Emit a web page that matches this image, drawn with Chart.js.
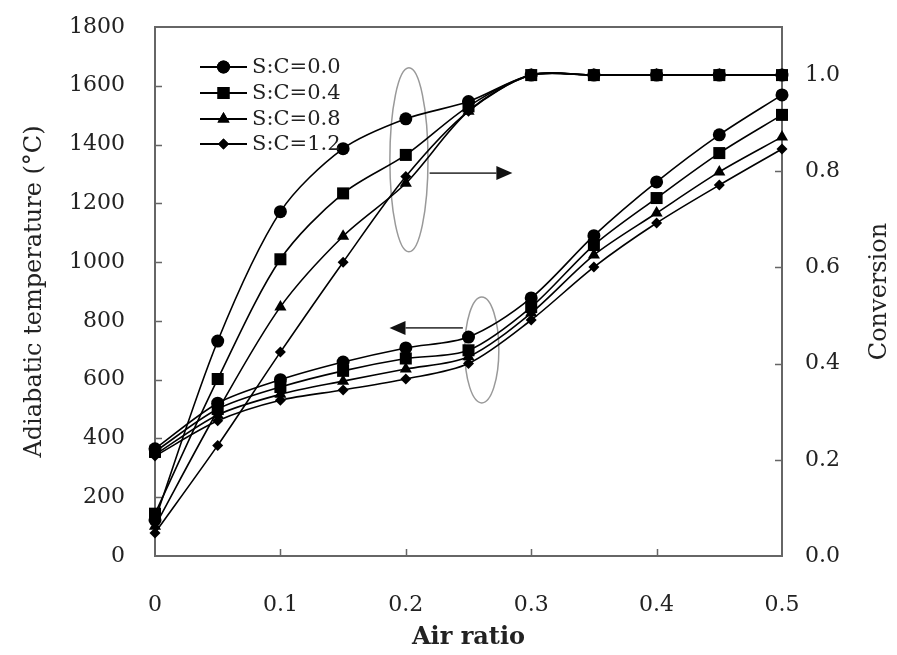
<!DOCTYPE html>
<html>
<head>
<meta charset="utf-8">
<script src="https://cdn.jsdelivr.net/npm/chart.js@4/dist/chart.umd.min.js"></script>
<style>
html,body{margin:0;padding:0;background:#fff;}
#wrap{width:897px;height:655px;}
</style>
</head>
<body>
<div id="wrap"><canvas id="c" width="897" height="655"></canvas></div>
<script>
// ---------------- DATA ----------------
const airRatio = [0, 0.05, 0.1, 0.15, 0.2, 0.25, 0.3, 0.35, 0.4, 0.45, 0.5];
const seriesNames = ['S:C=0.0', 'S:C=0.4', 'S:C=0.8', 'S:C=1.2'];

// Adiabatic temperature (°C) - left axis
const tempSC00 = [365, 520, 600, 660, 708, 745, 878, 1090, 1273, 1433, 1569];
const tempSC04 = [355, 500, 575, 630, 672, 700, 847, 1058, 1218, 1371, 1501];
const tempSC08 = [345, 480, 550, 595, 636, 678, 827, 1024, 1167, 1307, 1426];
const tempSC12 = [340, 460, 530, 565, 602, 655, 803, 983, 1133, 1262, 1385];

// Conversion - right axis
const convSC00 = [0.075, 0.447, 0.716, 0.847, 0.909, 0.945, 1.0, 1.0, 1.0, 1.0, 1.0];
const convSC04 = [0.088, 0.368, 0.617, 0.754, 0.834, 0.935, 1.0, 1.0, 1.0, 1.0, 1.0];
const convSC08 = [0.062, 0.302, 0.518, 0.665, 0.775, 0.925, 1.0, 1.0, 1.0, 1.0, 1.0];
const convSC12 = [0.048, 0.230, 0.424, 0.611, 0.789, 0.925, 1.0, 1.0, 1.0, 1.0, 1.0];

const xTickValues = [0, 0.1, 0.2, 0.3, 0.4, 0.5];
const xTickLabels = ['0', '0.1', '0.2', '0.3', '0.4', '0.5'];
const tempTickValues = [0, 200, 400, 600, 800, 1000, 1200, 1400, 1600, 1800];
const tempTickLabels = ['0', '200', '400', '600', '800', '1000', '1200', '1400', '1600', '1800'];
const convTickValues = [0, 0.2, 0.4, 0.6, 0.8, 1.0];
const convTickLabels = ['0.0', '0.2', '0.4', '0.6', '0.8', '1.0'];

const xTitle = 'Air ratio';
const leftTitle = 'Adiabatic temperature (°C)';
const rightTitle = 'Conversion';

// ---------------- STYLE ----------------
const FONT = 'DejaVu Serif';
const TXT = '#222';
const FRAME = '#666';
const markerStyles = ['circle', 'rect', 'triangle', 'rectRot'];
const markerRadii = [6.5, 8.5, 7, 5.5];
const drawOrder = [2, 0, 3, 4];

// annotation shapes in data units (x, temperature)
const ellipseShapes = [
  {x: 0.2025, y: 1348, dx: 0.0152, dy: 313},
  {x: 0.2606, y: 701, dx: 0.0136, dy: 180}
];
const arrowShapes = [
  {x1: 0.219, x2: 0.285, y: 1303},
  {x1: 0.2455, x2: 0.187, y: 776}
];

const temps = [tempSC00, tempSC04, tempSC08, tempSC12];
const convs = [convSC00, convSC04, convSC08, convSC12];
const toXY = arr => arr.map((v, i) => ({x: airRatio[i], y: v}));

const datasets = [];
seriesNames.forEach((name, k) => {
  const common = {
    borderColor: '#000', backgroundColor: '#000',
    pointBackgroundColor: '#000', pointBorderColor: '#000',
    pointStyle: markerStyles[k], pointRadius: markerRadii[k],
    pointBorderWidth: 0, borderWidth: 1.6,
    tension: 0.3, clip: false, fill: false
  };
  datasets.push(Object.assign({label: name + ' conversion', data: toXY(convs[k]), yAxisID: 'yConv', order: drawOrder[k]}, common));
  datasets.push(Object.assign({label: name + ' temperature', data: toXY(temps[k]), yAxisID: 'yTemp', order: 5 + k}, common));
});

const zeroPad = s => { s.paddingTop = 0; s.paddingBottom = 0; s.paddingLeft = 0; s.paddingRight = 0; };

const decor = {
  id: 'decor',
  beforeDatasetsDraw(chart) {
    const {ctx, chartArea: a, scales} = chart;
    const sx = scales.x, sy = scales.yTemp, sc = scales.yConv;
    ctx.save();
    // inward tick marks
    ctx.strokeStyle = FRAME; ctx.lineWidth = 1.5;
    const TL = 7;
    ctx.beginPath();
    tempTickValues.forEach(v => {
      if (v === 0 || v === 1800) return;
      const y = Math.round(sy.getPixelForValue(v)) + 0.5;
      ctx.moveTo(a.left, y); ctx.lineTo(a.left + TL, y);
    });
    convTickValues.forEach(v => {
      if (v === 0) return;
      const y = Math.round(sc.getPixelForValue(v)) + 0.5;
      ctx.moveTo(a.right, y); ctx.lineTo(a.right - TL, y);
    });
    xTickValues.forEach(v => {
      if (v === 0 || v === 0.5) return;
      const x = Math.round(sx.getPixelForValue(v)) + 0.5;
      ctx.moveTo(x, a.bottom); ctx.lineTo(x, a.bottom - TL);
    });
    ctx.stroke();
    // frame
    ctx.lineWidth = 2;
    ctx.strokeRect(a.left, a.top, a.right - a.left, a.bottom - a.top);
    // ellipses
    ctx.strokeStyle = '#999'; ctx.lineWidth = 1.5;
    ellipseShapes.forEach(e => {
      const cx = sx.getPixelForValue(e.x), cy = sy.getPixelForValue(e.y);
      const rx = Math.abs(sx.getPixelForValue(e.x + e.dx) - cx);
      const ry = Math.abs(sy.getPixelForValue(e.y + e.dy) - cy);
      ctx.beginPath(); ctx.ellipse(cx, cy, rx, ry, 0, 0, Math.PI * 2); ctx.stroke();
    });
    // arrows
    ctx.strokeStyle = '#444'; ctx.fillStyle = '#111'; ctx.lineWidth = 1.8;
    arrowShapes.forEach(r => {
      const x1 = sx.getPixelForValue(r.x1), x2 = sx.getPixelForValue(r.x2), y = sy.getPixelForValue(r.y);
      const dir = Math.sign(x2 - x1), head = 16, hw = 7;
      ctx.beginPath(); ctx.moveTo(x1, y); ctx.lineTo(x2 - dir * head, y); ctx.stroke();
      ctx.beginPath(); ctx.moveTo(x2, y); ctx.lineTo(x2 - dir * head, y - hw); ctx.lineTo(x2 - dir * head, y + hw); ctx.closePath(); ctx.fill();
    });
    ctx.restore();
  },
  afterDraw(chart) {
    const {ctx, chartArea: a} = chart;
    ctx.save();
    // legend
    const lx0 = a.left + 45, lx1 = a.left + 92, tx = a.left + 97;
    const rows = [a.top + 40, a.top + 66, a.top + 92, a.top + 117];
    ctx.font = '21px "' + FONT + '"';
    ctx.textBaseline = 'middle'; ctx.textAlign = 'left';
    seriesNames.forEach((name, k) => {
      const y = rows[k];
      ctx.strokeStyle = '#000'; ctx.lineWidth = 2;
      ctx.beginPath(); ctx.moveTo(lx0, y); ctx.lineTo(lx1, y); ctx.stroke();
      ctx.fillStyle = '#000';
      Chart.helpers.drawPoint(ctx, {pointStyle: markerStyles[k], radius: markerRadii[k], rotation: 0, borderWidth: 0}, (lx0 + lx1) / 2, y);
      ctx.fill();
      ctx.fillStyle = TXT;
      ctx.fillText(name, tx, y + 1);
    });
    // right axis title (reads bottom to top)
    ctx.translate(880, (a.top + a.bottom) / 2);
    ctx.rotate(-Math.PI / 2);
    ctx.textAlign = 'center';
    ctx.font = '24px "' + FONT + '"';
    ctx.fillStyle = TXT;
    ctx.fillText(rightTitle, 0, 0);
    ctx.restore();
  }
};

new Chart(document.getElementById('c'), {
  type: 'line',
  data: {datasets},
  options: {
    responsive: false,
    animation: false,
    devicePixelRatio: 1,
    layout: {padding: {top: 27, left: 0, right: 0, bottom: 0}},
    plugins: {legend: {display: false}, tooltip: {enabled: false}},
    scales: {
      x: {
        type: 'linear', min: 0, max: 0.5,
        afterBuildTicks: s => { s.ticks = xTickValues.map(v => ({value: v})); },
        afterFit: s => { s.height = 99; zeroPad(s); },
        grid: {display: false}, border: {display: false},
        ticks: {callback: (v, i) => xTickLabels[i], font: {family: FONT, size: 22}, color: TXT, padding: 28, maxRotation: 0, autoSkip: false},
        title: {display: true, text: xTitle, font: {family: FONT, size: 24, weight: 'bold'}, color: TXT, padding: {top: 0, bottom: 3}}
      },
      yTemp: {
        type: 'linear', position: 'left', min: 0, max: 1800,
        afterBuildTicks: s => { s.ticks = tempTickValues.map(v => ({value: v})); },
        afterFit: s => { s.width = 155; zeroPad(s); },
        grid: {display: false}, border: {display: false},
        ticks: {callback: (v, i) => tempTickLabels[i], font: {family: FONT, size: 22}, color: TXT, padding: 22, autoSkip: false},
        title: {display: true, text: leftTitle, font: {family: FONT, size: 24}, color: TXT, padding: {top: 20, bottom: 0}}
      },
      yConv: {
        type: 'linear', position: 'right', min: 0, max: 1.1,
        afterBuildTicks: s => { s.ticks = convTickValues.map(v => ({value: v})); },
        afterFit: s => { s.width = 115; zeroPad(s); },
        grid: {display: false}, border: {display: false},
        ticks: {callback: (v, i) => convTickLabels[i], font: {family: FONT, size: 22}, color: TXT, padding: 15, autoSkip: false}
      }
    }
  },
  plugins: [decor]
});
</script>
</body>
</html>
